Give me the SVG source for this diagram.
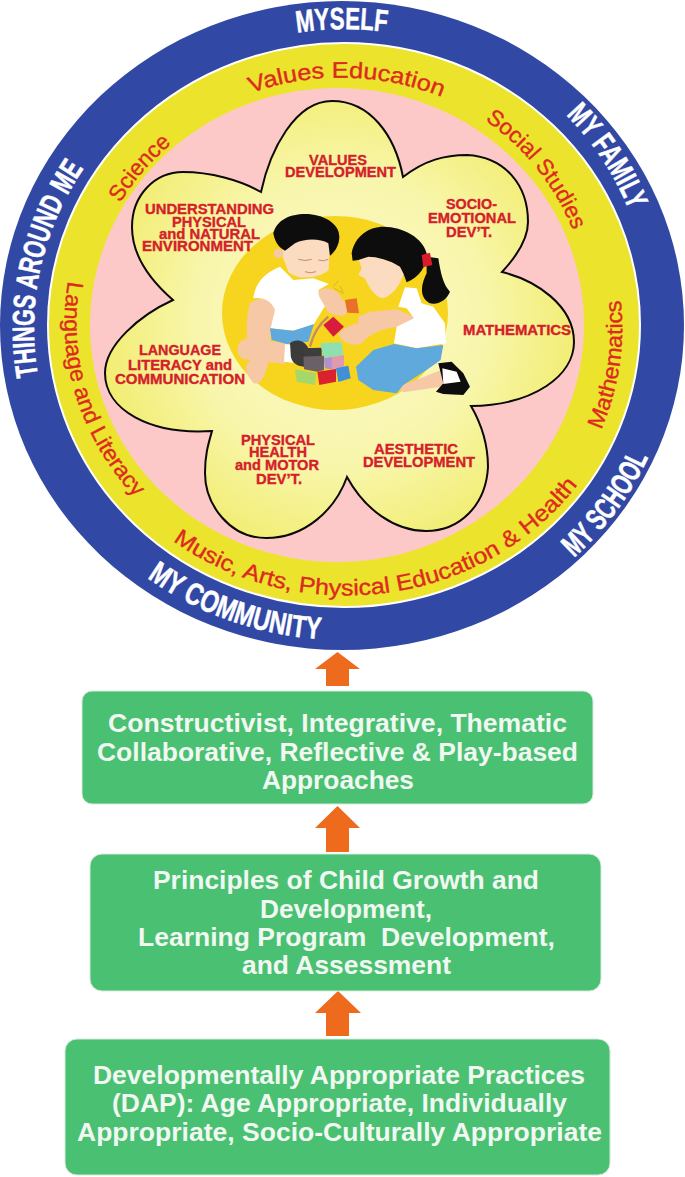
<svg xmlns="http://www.w3.org/2000/svg" width="685" height="1177" viewBox="0 0 685 1177">
<style>
text{font-family:"Liberation Sans",Arial,sans-serif;font-weight:700}
.ring{fill:#fff;font-size:31px;stroke:#fff;stroke-width:.5}
.subj{fill:#dc2a1e;font-size:22.5px;font-weight:400;stroke:#dc2a1e;stroke-width:.35}
.lab{fill:#d4202a;font-size:14px;stroke:#d4202a;stroke-width:.35}
.box{fill:#4ac072;stroke:#d6eadb;stroke-width:1}
.boxt{fill:#f0f8f1;font-size:25.5px}
.arrow{fill:#ee6a1c}
.skin{fill:#fbdcc0}.skin2{fill:#f6c8a6}.w{fill:#fff}.blue{fill:#5ea9dd}.blk{fill:#0a0a0a}
</style>
<defs>
<radialGradient id="fg" gradientUnits="userSpaceOnUse" cx="340" cy="320" r="240">
<stop offset="0" stop-color="#fbf9c8"/><stop offset=".6" stop-color="#f8f6ac"/><stop offset="1" stop-color="#f2ed72"/>
</radialGradient>
<filter id="soft" x="-5%" y="-5%" width="110%" height="110%"><feGaussianBlur stdDeviation="2"/></filter>
<path id="pMyself" d="M297,33 A305 293 0 0 1 387,32"/>
<path id="pFamily" d="M566,115 A305 293 0 0 1 628,208"/>
<path id="pSchool" d="M574,558 A330 315 0 0 0 648,458"/>
<path id="pCommunity" d="M147,578 A330 314 0 0 0 318,639"/>
<path id="pThings" d="M38,376 A305 293 0 0 1 84,168"/>
<path id="pValues" d="M251,93 A258 245 0 0 1 439,96"/>
<path id="pScience" d="M120,203 A258 247 0 0 1 170,145"/>
<path id="pSocial" d="M485,120 A258 247 0 0 1 572,228"/>
<path id="pMath" d="M601,430 A283 268 0 0 0 621,302"/>
<path id="pMusic" d="M173,541 A285 265 0 0 0 576,487"/>
<path id="pLang" d="M68,281 A283 265 0 0 0 135,497"/>
</defs>
<rect width="685" height="1177" fill="#fff"/>

<g id="outer-ring">
<ellipse cx="342" cy="325.5" rx="342" ry="324.5" fill="#3149a5"/>
<text class="ring"><textPath href="#pMyself" textLength="90" lengthAdjust="spacingAndGlyphs">MYSELF</textPath></text>
<text class="ring"><textPath href="#pFamily" textLength="115" lengthAdjust="spacingAndGlyphs">MY FAMILY</textPath></text>
<text class="ring"><textPath href="#pSchool" textLength="126" lengthAdjust="spacingAndGlyphs">MY SCHOOL</textPath></text>
<text class="ring"><textPath href="#pCommunity" textLength="186" lengthAdjust="spacingAndGlyphs">MY COMMUNITY</textPath></text>
<text class="ring"><textPath href="#pThings" textLength="218" lengthAdjust="spacingAndGlyphs">THINGS AROUND ME</textPath></text>
</g>

<g id="subject-ring">
<ellipse cx="344" cy="325" rx="296" ry="282" fill="#ece32d" stroke="#fff" stroke-width="2"/>
<ellipse cx="337" cy="325" rx="247" ry="237" fill="#fdc9c8"/>
<text class="subj"><textPath href="#pValues" textLength="195" lengthAdjust="spacingAndGlyphs">Values Education</textPath></text>
<text class="subj"><textPath href="#pScience" textLength="79" lengthAdjust="spacingAndGlyphs">Science</textPath></text>
<text class="subj"><textPath href="#pSocial" textLength="143" lengthAdjust="spacingAndGlyphs">Social Studies</textPath></text>
<text class="subj"><textPath href="#pMath" textLength="133" lengthAdjust="spacingAndGlyphs">Mathematics</textPath></text>
<text class="subj"><textPath href="#pMusic" textLength="450" lengthAdjust="spacingAndGlyphs">Music, Arts, Physical Education &amp; Health</textPath></text>
<text class="subj"><textPath href="#pLang" textLength="235" lengthAdjust="spacingAndGlyphs">Language and Literacy</textPath></text>
</g>

<g id="flower">
<path d="M261,192 C270,150 295,101 332,101 C370,101 395,135 403,177 C425,160 445,155 467,155 C505,157 528,185 528,222 C528,240 515,258 502,272 C535,280 574,305 574,342 C574,375 535,405 471,406 C482,425 488,445 488,467 C486,505 460,531 426,531 C395,531 365,510 347,477 C335,510 305,538 266,538 C230,538 205,505 205,473 C205,455 208,445 212,431 C150,435 105,410 105,373 C105,345 140,315 173,300 C150,280 132,255 132,227 C132,195 155,172 183,172 C210,172 240,180 261,192 Z" fill="url(#fg)" stroke="#0a0a0a" stroke-width="2"/>
<ellipse cx="335" cy="313" rx="113" ry="97" fill="#f7d41e"/>
</g>

<g id="children" transform="translate(230 210) scale(.3333)">
<g filter="url(#soft)">
<path class="skin2" d="M55,385 C20,390 10,430 40,447 L165,462 L175,400 Z"/>
<path class="skin2" d="M60,280 C90,255 130,265 135,300 C125,350 118,420 112,470 C100,510 85,528 70,518 C45,490 42,470 60,450 C50,400 45,330 60,280Z"/>
<path class="w" d="M70,265 C75,230 90,195 150,170 L190,210 L250,205 L297,222 L265,240 L290,280 L250,345 L190,362 L122,355 L135,300 C125,270 95,260 70,265Z"/>
<path class="blue" d="M120,355 L190,362 L252,342 L235,395 L170,402 L125,390Z"/>
<path class="w" d="M165,403 L190,405 L190,458 L162,455Z"/>
<path d="M180,400 C195,385 225,390 235,415 L275,415 L275,440 L222,440 L222,470 C200,470 180,455 182,430Z" fill="#3a3a3a"/>
<path class="skin" d="M160,85 L300,85 L296,180 C270,205 200,212 175,185 L158,140Z"/>
<circle class="skin2" cx="145" cy="130" r="14"/>
<path class="blk" d="M130,70 C140,30 180,12 225,12 C280,12 328,40 328,80 C328,105 315,125 300,137 L295,100 C270,85 225,85 195,100 L165,122 C150,115 135,100 130,70Z"/>
<path d="M205,148 Q225,155 245,148 M265,150 Q280,156 295,148 M225,185 Q240,192 258,185" fill="none" stroke="#c98a60" stroke-width="3"/>
<path class="skin2" d="M265,245 C285,225 320,235 335,265 C350,280 358,300 345,315 C325,320 300,315 290,300 C280,275 265,265 265,245Z"/>
<path d="M240,410 C250,370 270,340 295,320" fill="none" stroke="#c98a60" stroke-width="7"/>
<path d="M310,230 L325,212 M312,235 L340,250 L330,228" fill="none" stroke="#c9a040" stroke-width="2"/>
<path d="M345,270 L380,265 L387,310 L352,308Z" fill="#e8702a"/>
<path d="M280,345 L310,320 L342,350 L310,380Z" fill="#d81f3c"/>
<path class="blk" d="M590,140 L625,145 C632,190 640,225 660,245 C650,270 625,285 600,280 C570,265 570,230 590,190Z"/>
<path class="skin" d="M385,145 L420,135 L512,165 L522,190 C510,225 490,255 460,265 C440,265 420,240 405,205 L385,195 L395,175Z"/>
<path class="blk" d="M365,130 C375,75 420,50 460,50 C520,50 580,85 590,130 C590,170 570,200 530,217 L520,190 L510,170 C480,150 440,140 415,140 L385,150 L368,152Z"/>
<path d="M575,135 L600,128 L607,165 L580,172Z" fill="#d81f2a"/>
<path class="skin2" d="M385,320 L420,305 L500,298 L552,320 L545,360 L500,350 C450,360 420,370 400,395 C380,412 345,405 325,375 C330,360 360,345 385,340Z"/>
<path class="w" d="M505,290 L525,232 L560,235 L575,280 L610,290 L645,340 L648,400 L560,415 L492,400 L500,350 L552,325 L530,295Z"/>
<path class="skin2" d="M505,530 L640,478 L650,528 L520,547Z"/>
<path class="blue" d="M430,420 L492,402 L560,415 L640,405 L632,450 L590,480 L520,525 L500,550 L430,540 L385,510 L378,470Z"/>
<path class="blk" d="M625,460 L665,455 L700,490 L720,530 L700,555 L640,552 L618,545 L640,520Z"/>
<path class="w" d="M637,475 L680,485 L692,515 L640,522Z"/>
<path d="M220,415 L273,413 L273,440 L222,440Z" fill="#3c3c3c"/>
<path d="M272,400 L335,397 L340,435 L280,445Z" fill="#8fe0b0"/>
<path d="M220,440 L282,437 L282,480 L262,485 L222,478Z" fill="#6a6068"/>
<path d="M282,445 L342,435 L342,472 L318,480 L285,475Z" fill="#e09ab0"/>
<path d="M282,445 L305,442 L305,478 L285,475Z" fill="#b090d0"/>
<path d="M262,485 L318,477 L318,515 L268,525Z" fill="#d8222e"/>
<path d="M318,475 L355,467 L362,505 L325,516Z" fill="#3f8fd8"/>
<path d="M195,478 L258,490 L255,525 L200,515Z" fill="#a4d86a"/>
</g>
</g>

<g id="domains">
<g id="domain-values"><text class="lab" x="309" y="165" textLength="58" lengthAdjust="spacingAndGlyphs">VALUES</text><text class="lab" x="285" y="177" textLength="111" lengthAdjust="spacingAndGlyphs">DEVELOPMENT</text></g>
<g id="domain-understanding"><text class="lab" x="145" y="214" textLength="129" lengthAdjust="spacingAndGlyphs">UNDERSTANDING</text><text class="lab" x="172" y="227" textLength="74" lengthAdjust="spacingAndGlyphs">PHYSICAL</text><text class="lab" x="159" y="239" textLength="101" lengthAdjust="spacingAndGlyphs">and NATURAL</text><text class="lab" x="142" y="251" textLength="111" lengthAdjust="spacingAndGlyphs">ENVIRONMENT</text></g>
<g id="domain-socio"><text class="lab" x="446" y="209" textLength="51" lengthAdjust="spacingAndGlyphs">SOCIO-</text><text class="lab" x="428" y="223" textLength="88" lengthAdjust="spacingAndGlyphs">EMOTIONAL</text><text class="lab" x="446" y="237" textLength="46" lengthAdjust="spacingAndGlyphs">DEV’T.</text></g>
<g id="domain-math"><text class="lab" x="463" y="335" textLength="108" lengthAdjust="spacingAndGlyphs">MATHEMATICS</text></g>
<g id="domain-language"><text class="lab" x="139" y="355" textLength="82" lengthAdjust="spacingAndGlyphs">LANGUAGE</text><text class="lab" x="128" y="370" textLength="104" lengthAdjust="spacingAndGlyphs">LITERACY and</text><text class="lab" x="115" y="384" textLength="130" lengthAdjust="spacingAndGlyphs">COMMUNICATION</text></g>
<g id="domain-physical"><text class="lab" x="241" y="445" textLength="74" lengthAdjust="spacingAndGlyphs">PHYSICAL</text><text class="lab" x="249" y="457" textLength="58" lengthAdjust="spacingAndGlyphs">HEALTH</text><text class="lab" x="235" y="470" textLength="84" lengthAdjust="spacingAndGlyphs">and MOTOR</text><text class="lab" x="256" y="484" textLength="46" lengthAdjust="spacingAndGlyphs">DEV’T.</text></g>
<g id="domain-aesthetic"><text class="lab" x="374" y="454" textLength="84" lengthAdjust="spacingAndGlyphs">AESTHETIC</text><text class="lab" x="363" y="467" textLength="112" lengthAdjust="spacingAndGlyphs">DEVELOPMENT</text></g>
</g>

<g id="connectors">
<polygon class="arrow" points="337.5,652 360,669 349,669 349,686 326,686 326,669 315,669"/>
<polygon class="arrow" points="337.5,806 360,828 349,828 349,852 326,852 326,828 315,828"/>
<polygon class="arrow" points="338,991 361,1013 349,1013 349,1036 326,1036 326,1013 315,1013"/>
</g>

<g id="box-approaches">
<rect class="box" x="82" y="691" width="511" height="113" rx="10"/>
<text class="boxt" x="108" y="732" textLength="459" lengthAdjust="spacingAndGlyphs">Constructivist, Integrative, Thematic</text>
<text class="boxt" x="97" y="761" textLength="481" lengthAdjust="spacingAndGlyphs">Collaborative, Reflective &amp; Play-based</text>
<text class="boxt" x="262" y="789" textLength="152" lengthAdjust="spacingAndGlyphs">Approaches</text>
</g>
<g id="box-principles">
<rect class="box" x="90" y="854" width="511" height="137" rx="12"/>
<text class="boxt" x="153" y="889" textLength="386" lengthAdjust="spacingAndGlyphs">Principles of Child Growth and</text>
<text class="boxt" x="260" y="918" textLength="172" lengthAdjust="spacingAndGlyphs">Development,</text>
<text class="boxt" x="138" y="946" textLength="417" lengthAdjust="spacingAndGlyphs" xml:space="preserve">Learning Program  Development,</text>
<text class="boxt" x="242" y="974" textLength="209" lengthAdjust="spacingAndGlyphs">and Assessment</text>
</g>
<g id="box-dap">
<rect class="box" x="65" y="1039" width="545" height="136" rx="12"/>
<text class="boxt" x="93" y="1084" textLength="492" lengthAdjust="spacingAndGlyphs">Developmentally Appropriate Practices</text>
<text class="boxt" x="112" y="1112" textLength="455" lengthAdjust="spacingAndGlyphs">(DAP): Age Appropriate, Individually</text>
<text class="boxt" x="77" y="1141" textLength="525" lengthAdjust="spacingAndGlyphs">Appropriate, Socio-Culturally Appropriate</text>
</g>
</svg>
